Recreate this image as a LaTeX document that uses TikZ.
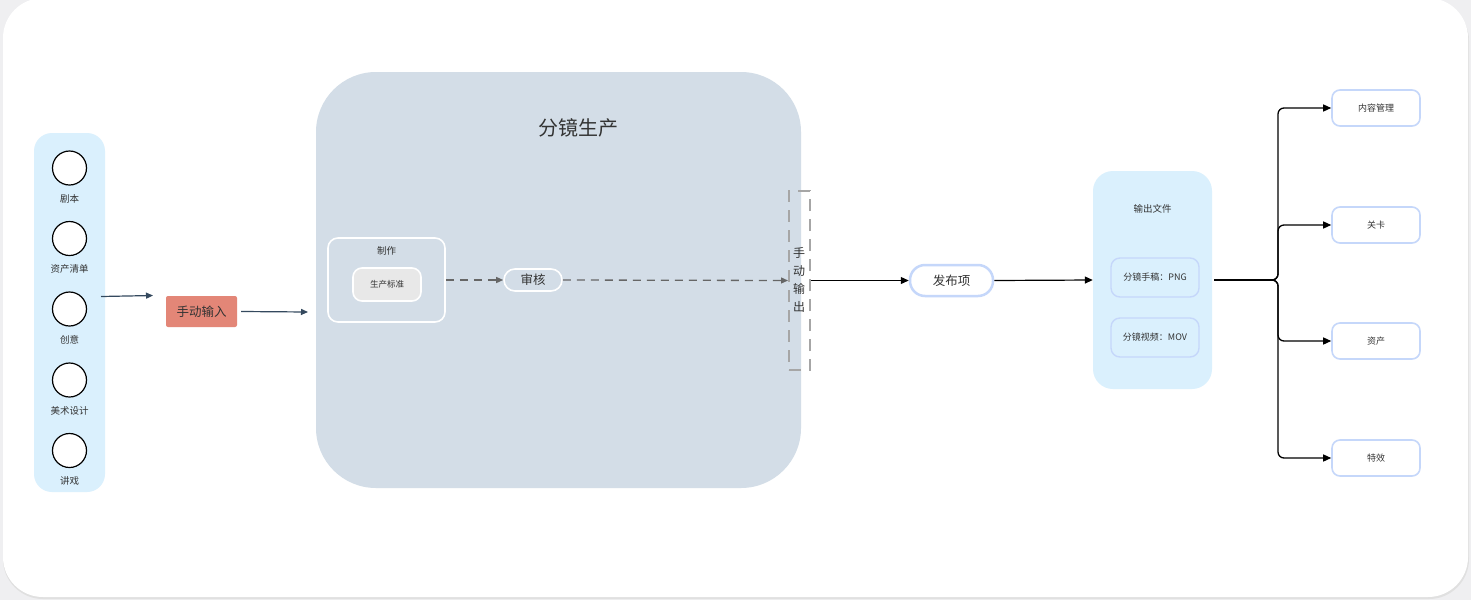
\documentclass[tikz,border=0pt]{standalone}
\usepackage{fontspec}
\setmainfont{Noto Sans CJK SC}
\usetikzlibrary{arrows.meta,calc}
\definecolor{bggray}{HTML}{EFEFF1}
\definecolor{panelgray}{HTML}{D3DDE7}
\definecolor{lightblue}{HTML}{DAF0FD}
\definecolor{boxblue}{HTML}{C5D7FA}
\definecolor{salmon}{HTML}{E38677}
\definecolor{txt}{HTML}{333333}
\definecolor{navy}{HTML}{34495E}
\definecolor{dashgray}{HTML}{A6A6A6}
\definecolor{darrow}{HTML}{666666}
\tikzset{
  px/.style={x=1pt,y=-1pt},
  incircle/.style={circle,draw=black,line width=1.2pt,fill=white,minimum size=34pt,inner sep=0pt},
  smalllabel/.style={text=txt,font=\fontsize{9.5}{11}\selectfont,inner sep=0pt},
  navyarrow/.style={draw=navy,line width=1.2pt,-{Triangle[length=7pt,width=6pt]}},
  blackarrow/.style={draw=black,line width=1.2pt,-{Triangle[length=8pt,width=7pt]}},
  dasharrow/.style={draw=darrow,line width=1.3pt,dash pattern=on 8pt off 6pt,-{Triangle[length=7pt,width=6pt]}},
  targetbox/.style={draw=boxblue,line width=1.6pt,fill=white,rounded corners=8pt,minimum width=88pt,minimum height=36pt,inner sep=0pt,text=txt,font=\fontsize{9}{11}\selectfont},
  filebox/.style={draw=boxblue,line width=1.4pt,fill=lightblue,rounded corners=9pt,minimum width=88pt,minimum height=39pt,inner sep=0pt,text=txt,font=\fontsize{9}{11}\selectfont},
  branch/.style={draw=black,line width=1.3pt,rounded corners=6pt,-{Triangle[length=8pt,width=7pt]}}
}
\begin{document}
\begin{tikzpicture}[px]
\useasboundingbox (0,0) rectangle (1471,600);
\fill[bggray] (0,0) rectangle (1471,600);
\fill[black!12] (3,1) [rounded corners=40pt] rectangle (1469,599);
\fill[white,rounded corners=40pt] (3,-2) rectangle (1468,597);

% left input panel
\node[fill=lightblue,rounded corners=18pt,minimum width=71pt,minimum height=359pt,inner sep=0pt] (inpanel) at (69.5,312.5) {};
\node[incircle] (c1) at (69.5,168) {};
\node[incircle] (c2) at (69.5,238.5) {};
\node[incircle] (c3) at (69.5,309) {};
\node[incircle] (c4) at (69.5,380) {};
\node[incircle] (c5) at (69.5,450.5) {};
\node[smalllabel] (l1) at (69.5,198.5) {剧本};
\node[smalllabel] (l2) at (69.5,269) {资产清单};
\node[smalllabel] (l3) at (69.5,339.5) {创意};
\node[smalllabel] (l4) at (69.5,410.5) {美术设计};
\node[smalllabel] (l5) at (69.5,480.5) {讲戏};

\coordinate (a1s) at (101,296.5);
\coordinate (a1e) at (153,295.5);
\draw[navyarrow] (a1s) -- (a1e);

\node[fill=salmon,rounded corners=2pt,minimum width=71pt,minimum height=31pt,inner sep=0pt,text=txt,font=\fontsize{12.5}{14}\selectfont] (manual) at (201.5,311.5) {手动输入};
\coordinate (a2e) at (308,312);
\draw[navyarrow] ($(manual.east)+(4,0)$) -- (a2e);

% main panel
\node[fill=panelgray,rounded corners=60pt,minimum width=485pt,minimum height=416pt,inner sep=0pt] (panel) at (558.5,280) {};
\node[text=txt,font=\fontsize{20}{22}\selectfont,inner sep=0pt] (ptitle) at (578.5,128) {分镜生产};

\node[draw=white,line width=1.6pt,rounded corners=10pt,minimum width=117pt,minimum height=84pt,inner sep=0pt] (zhizuo) at (386.5,280) {};
\node[smalllabel] (zlabel) at (386.5,251) {制作};
\node[draw=white,line width=1.6pt,fill=black!9,rounded corners=9pt,minimum width=68pt,minimum height=33pt,inner sep=0pt,text=txt,font=\fontsize{8.5}{10}\selectfont] (biaozhun) at (387,284.5) {生产标准};

\node[draw=white,line width=1.6pt,fill=panelgray,rounded corners=11pt,minimum width=58pt,minimum height=22pt,inner sep=0pt,text=txt,font=\fontsize{12.5}{14}\selectfont] (shenhe) at (533,280) {审核};

\node[draw=dashgray,line width=2pt,dash pattern=on 12pt off 8pt,minimum width=21pt,minimum height=179pt,inner sep=0pt] (dashbox) at (799.5,280.5) {};
\node[text=txt,font=\fontsize{12}{18}\selectfont,align=center,inner sep=0pt] (dtext) at (799,280) {手\\动\\输\\出};

\draw[dasharrow] (zhizuo.east) -- (shenhe.west);
\draw[dasharrow] (shenhe.east) -- (dashbox.west);

% publish
\node[draw=boxblue,line width=2.5pt,fill=white,rounded corners=15pt,minimum width=83pt,minimum height=31pt,inner sep=0pt,text=txt,font=\fontsize{12.5}{14}\selectfont] (fabu) at (951.5,280.5) {发布项};
\draw[blackarrow] (dashbox.east) -- (fabu.west);

% output panel
\node[fill=lightblue,rounded corners=20pt,minimum width=119pt,minimum height=218pt,inner sep=0pt] (outpanel) at (1152.5,280) {};
\node[smalllabel] (otitle) at (1152.5,209) {输出文件};
\node[filebox] (png) at (1155,277.5) {分镜手稿：PNG};
\node[filebox] (mov) at (1155,337.5) {分镜视频：MOV};
\draw[blackarrow] (fabu.east) -- (outpanel.west);

% targets
\node[targetbox] (t1) at (1376,108) {内容管理};
\node[targetbox] (t2) at (1376,225) {关卡};
\node[targetbox] (t3) at (1376,341) {资产};
\node[targetbox] (t4) at (1376,458) {特效};

\coordinate (src) at (1214,280);
\draw[branch] (src) -- (1278,280) -- (1278,108) -- (t1.west);
\draw[branch] (src) -- (1278,280) -- (1278,225) -- (t2.west);
\draw[branch] (src) -- (1278,280) -- (1278,341) -- (t3.west);
\draw[branch] (src) -- (1278,280) -- (1278,458) -- (t4.west);
\end{tikzpicture}
\end{document}
